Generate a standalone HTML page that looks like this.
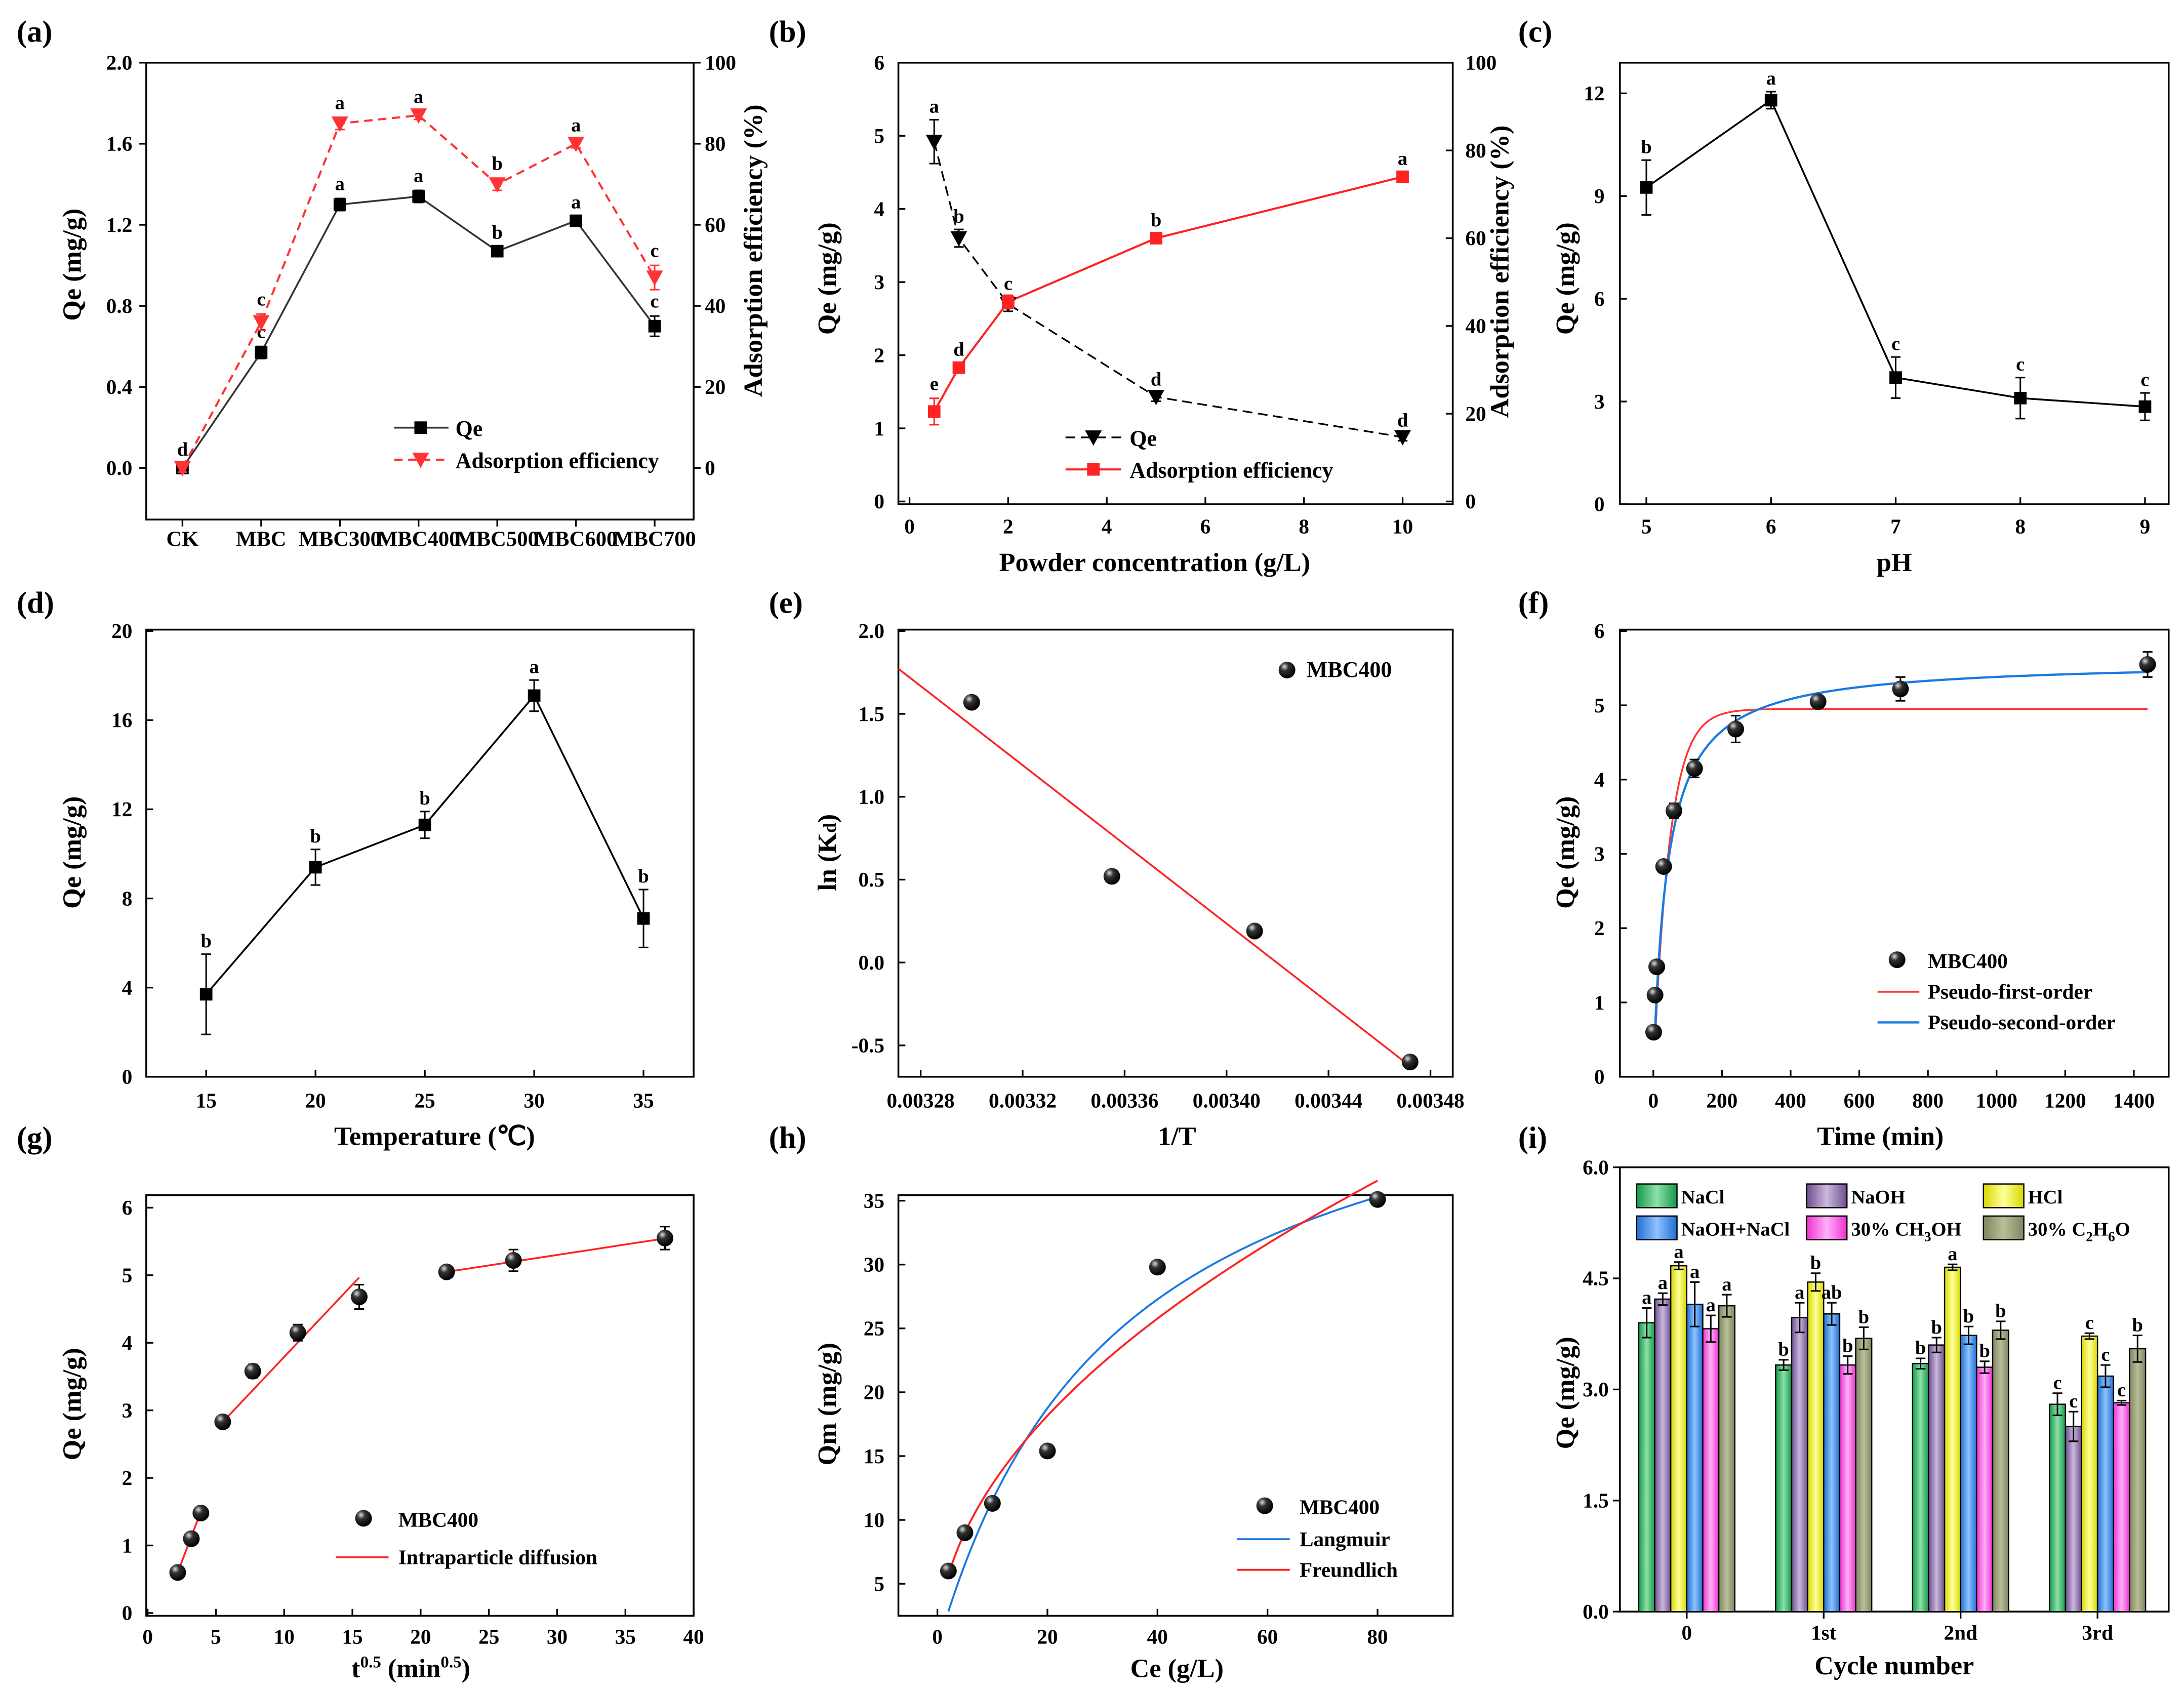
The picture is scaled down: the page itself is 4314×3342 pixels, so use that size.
<!DOCTYPE html>
<html><head><meta charset="utf-8"><style>
html,body{margin:0;padding:0;background:#fff;}
svg{display:block;font-family:"Liberation Serif",serif;font-weight:bold;}
</style></head><body>
<svg id="fig" xmlns="http://www.w3.org/2000/svg" width="4314" height="3342" viewBox="0 0 1568 1214.7">
<defs>
<radialGradient id="ball" cx="0.35" cy="0.3" r="0.7"><stop offset="0" stop-color="#ddd"/><stop offset="0.35" stop-color="#333"/><stop offset="1" stop-color="#000"/></radialGradient>
<linearGradient id="g0" x1="0" x2="1"><stop offset="0" stop-color="#139a4a"/><stop offset="0.5" stop-color="#8de0a8"/><stop offset="1" stop-color="#139a4a"/></linearGradient>
<linearGradient id="g1" x1="0" x2="1"><stop offset="0" stop-color="#6d4f8f"/><stop offset="0.5" stop-color="#cbb8dc"/><stop offset="1" stop-color="#6d4f8f"/></linearGradient>
<linearGradient id="g2" x1="0" x2="1"><stop offset="0" stop-color="#d8d800"/><stop offset="0.5" stop-color="#ffff9a"/><stop offset="1" stop-color="#d8d800"/></linearGradient>
<linearGradient id="g3" x1="0" x2="1"><stop offset="0" stop-color="#1f6fd0"/><stop offset="0.5" stop-color="#8fc2ff"/><stop offset="1" stop-color="#1f6fd0"/></linearGradient>
<linearGradient id="g4" x1="0" x2="1"><stop offset="0" stop-color="#f030d0"/><stop offset="0.5" stop-color="#ffb0f8"/><stop offset="1" stop-color="#f030d0"/></linearGradient>
<linearGradient id="g5" x1="0" x2="1"><stop offset="0" stop-color="#7e8560"/><stop offset="0.5" stop-color="#b8bf98"/><stop offset="1" stop-color="#7e8560"/></linearGradient>
</defs>
</svg>
<script>
// ---------- data ----------
const aCats=["CK","MBC","MBC300","MBC400","MBC500","MBC600","MBC700"];
const aQe=[0,0.57,1.30,1.34,1.07,1.22,0.70];
const aQeErr=[0.02,0.03,0.03,0.03,0.02,0.02,0.05];
const aEff=[0,36,85,87,70,80,47];
const aEffErr=[1,2,1.5,1,1.5,1,3];
const aQeLet=["d","c","a","a","b","a","c"];
const aEffLet=["","c","a","a","b","a","c"];
const bX=[0.5,1,2,5,10];
const bQe=[4.92,3.6,2.7,1.43,0.88];
const bQeErr=[0.3,0.12,0.1,0.06,0.05];
const bEff=[20.5,30.5,45.5,60,74];
const bEffErr=[3,0.8,1.5,0.8,0.8];
const bQeLet=["a","b","c","d","d"];
const bEffLet=["e","d","","b","a"];
const cX=[5,6,7,8,9];
const cQe=[9.25,11.8,3.7,3.1,2.85];
const cErr=[0.8,0.25,0.6,0.6,0.4];
const cLet=["b","a","c","c","c"];
const dX=[15,20,25,30,35];
const dQe=[3.7,9.4,11.3,17.1,7.1];
const dErr=[1.8,0.8,0.6,0.7,1.3];
const dLet=["b","b","b","a","b"];
const eX=[0.003300,0.003355,0.003411,0.003472];
const eY=[1.57,0.52,0.19,-0.60];
const fT=[1,5,10,30,60,120,240,480,720,1440];
const fQ=[0.6,1.1,1.48,2.83,3.58,4.15,4.68,5.05,5.22,5.55];
const fErr=[0.03,0.03,0.03,0.05,0.1,0.12,0.18,0.08,0.16,0.17];
const fPFO=[4.95,0.0214];
const fPSO=[5.6,0.0044];
const gX=[2.2,3.2,3.9,5.5,7.7,11,15.5,21.9,26.8,37.9];
const gY=[0.6,1.1,1.48,2.83,3.58,4.15,4.68,5.05,5.22,5.55];
const gErr=[0.03,0.03,0.03,0.05,0.1,0.12,0.18,0.08,0.16,0.17];
const gSlopes=[0.53,0.214,0.031];
const gIntercepts=[-0.566,1.65,4.37];
const gRanges=[[2.2,3.9],[5.5,15.5],[21.9,37.9]];
const hX=[2,5,10,20,40,80];
const hY=[6,9,11.3,15.4,29.8,35.1];
const hLang=[50,0.03];
const hFreu=[4.0,0.505];
const iCycles=["0","1st","2nd","3rd"];
const iSeries=["NaCl","NaOH","HCl","NaOH+NaCl","30% CH3OH","30% C2H6O"];
const iVals=[[3.9,3.33,3.35,2.8],[4.22,3.97,3.6,2.5],[4.67,4.45,4.65,3.72],[4.15,4.02,3.73,3.18],[3.82,3.33,3.3,2.82],[4.13,3.69,3.8,3.55]];
const iErr=[[0.2,0.07,0.07,0.15],[0.08,0.2,0.1,0.2],[0.05,0.12,0.04,0.04],[0.3,0.15,0.12,0.15],[0.18,0.12,0.08,0.03],[0.15,0.15,0.12,0.18]];
const iLet=[["a","b","b","c"],["a","a","b","c"],["a","b","a","c"],["a","ab","b","c"],["a","b","b","c"],["a","b","b","b"]];

// ---------- helpers ----------
const NS="http://www.w3.org/2000/svg";
const svg=document.getElementById('fig');
function mk(tag,attrs,name,parent){
  const e=document.createElementNS(NS,tag);
  for(const k in attrs) e.setAttribute(k,attrs[k]);
  
  
  (parent||svg).appendChild(e);
  return e;
}
function txt(x,y,s,size,anchor,name,extra){
  const a=Object.assign({x:x,y:y,'font-size':size,'text-anchor':anchor||'middle'},extra||{});
  const t=mk('text',a,name);
  t.innerHTML=s;
  return t;
}
function lin(d0,d1,r0,r1){return v=>r0+(v-d0)*(r1-r0)/(d1-d0);}
function box(x0,y0,x1,y1,name){mk('rect',{x:x0,y:y0,width:x1-x0,height:y1-y0,fill:'none',stroke:'#000','stroke-width':1.3},name);}
function xt(vals,labs,fx,y1,ly,name,dir,size){vals.forEach((v,i)=>{const x=fx(v);mk('line',{x1:x,x2:x,y1:y1,y2:y1+(dir||-5),stroke:'#000','stroke-width':1.2},name+'-tick');txt(x,ly,labs[i],size||15,'middle',name+'-label');});}
function yt(vals,labs,fy,x0,lx,name,anchor,dir){vals.forEach((v,i)=>{const y=fy(v);mk('line',{x1:x0,x2:x0+(dir||5),y1:y,y2:y,stroke:'#000','stroke-width':1.2},name+'-tick');txt(lx,y+5,labs[i],15,anchor||'end',name+'-label');});}
function ytitle(x,y,s,name,rot){txt(0,0,s,19,'middle',name,{transform:`translate(${x},${y}) rotate(${rot||-90})`});}
function err(x,y1,y2,col,name){mk('line',{x1:x,x2:x,y1:y1,y2:y2,stroke:col,'stroke-width':1.1},name);mk('line',{x1:x-3.5,x2:x+3.5,y1:y1,y2:y1,stroke:col,'stroke-width':1.1},name+'-cap');mk('line',{x1:x-3.5,x2:x+3.5,y1:y2,y2:y2,stroke:col,'stroke-width':1.1},name+'-cap');}
function sq(x,y,name){mk('rect',{x:x-4.5,y:y-4.5,width:9,height:9,fill:'#000'},name);}
function tri(x,y,name){mk('path',{d:`M${x-6},${y-5}L${x+6},${y-5}L${x},${y+6}Z`,fill:'#f33'},name);}
function ball(x,y,name){mk('circle',{cx:x,cy:y,r:6,fill:'url(#ball)'},name);}
function pl(pts,attrs,name){return mk('polyline',Object.assign({points:pts.map(p=>p.join(',')).join(' '),fill:'none'},attrs),name);}
function reg(xs,ys){const n=xs.length,mx=xs.reduce((a,b)=>a+b)/n,my=ys.reduce((a,b)=>a+b)/n;let sxy=0,sxx=0;for(let i=0;i<n;i++){sxy+=(xs[i]-mx)*(ys[i]-my);sxx+=(xs[i]-mx)**2;}const m=sxy/sxx;return [m,my-m*mx];}
function plabel(x,y,s){txt(x,y,s,22,'start','panel-label-'+s.replace(/[()]/g,''));}

// ---------- (a) ----------
plabel(12,30,'(a)');
{const fx=i=>131+i*56.5, fy=lin(0,2,336,45), fr=lin(0,100,336,45);
box(105,45,498,373,'a-plot-area');
xt(aCats.map((c,i)=>i),aCats,fx,373,392,'a-x',5,15.5);
yt([0,0.4,0.8,1.2,1.6,2.0],["0.0","0.4","0.8","1.2","1.6","2.0"],fy,105,95,'a-y-left','end',-5);
yt([0,20,40,60,80,100],["0","20","40","60","80","100"],fr,498,506,'a-y-right','start',5);
ytitle(58,190,'Qe (mg/g)','a-y-title');
ytitle(547,180,'Adsorption efficiency (%)','a-y2-title',-90);
pl(aEff.map((v,i)=>[fx(i),fr(v)]),{stroke:'#f33','stroke-width':1.5,'stroke-dasharray':'6,4'},'a-eff-line');
pl(aQe.map((v,i)=>[fx(i),fy(v)]),{stroke:'#333','stroke-width':1.3},'a-qe-line');
aQe.forEach((v,i)=>{err(fx(i),fy(v+aQeErr[i]),fy(v-aQeErr[i]),'#000','a-qe-err');sq(fx(i),fy(v),'a-qe-point');txt(fx(i),fy(v+aQeErr[i])-6,aQeLet[i],14,'middle','a-qe-letter');});
aEff.forEach((v,i)=>{err(fx(i),fr(v+aEffErr[i]),fr(v-aEffErr[i]),'#f33','a-eff-err');tri(fx(i),fr(v),'a-eff-point');if(aEffLet[i])txt(fx(i),fr(v+aEffErr[i])-6,aEffLet[i],14,'middle','a-eff-letter');});
mk('line',{x1:283,x2:322,y1:307,y2:307,stroke:'#333','stroke-width':1.3},'a-legend-qe-line');sq(302,307,'a-legend-qe-marker');txt(327,313,'Qe',16,'start','a-legend-qe');
mk('line',{x1:283,x2:322,y1:330,y2:330,stroke:'#f33','stroke-width':1.5,'stroke-dasharray':'6,4'},'a-legend-eff-line');tri(302,330,'a-legend-eff-marker');txt(327,336,'Adsorption efficiency',16,'start','a-legend-eff');}

// ---------- (b) ----------
plabel(552,30,'(b)');
{const fx=lin(0,10,653,1007), fy=lin(0,6,360,45), fr=lin(0,100,360,45);
box(645,45,1043,362,'b-plot-area');
xt([0,2,4,6,8,10],["0","2","4","6","8","10"],fx,362,383,'b-x');
yt([0,1,2,3,4,5,6],["0","1","2","3","4","5","6"],fy,645,635,'b-y-left');
yt([0,20,40,60,80,100],["0","20","40","60","80","100"],fr,1043,1052,'b-y-right','start',-5);
ytitle(600,200,'Qe (mg/g)','b-y-title');
ytitle(1083,195,'Adsorption efficiency (%)','b-y2-title',-90);
txt(829,410,'Powder concentration (g/L)',19,'middle','b-x-title');
pl(bQe.map((v,i)=>[fx(bX[i]),fy(v)]),{stroke:'#000','stroke-width':1.2,'stroke-dasharray':'7,4'},'b-qe-line');
pl(bEff.map((v,i)=>[fx(bX[i]),fr(v)]),{stroke:'#f22','stroke-width':1.5},'b-eff-line');
bQe.forEach((v,i)=>{const x=fx(bX[i]);err(x,fy(v+bQeErr[i]),fy(v-bQeErr[i]),'#000','b-qe-err');mk('path',{d:`M${x-6},${fy(v)-5}L${x+6},${fy(v)-5}L${x},${fy(v)+6}Z`,fill:'#000'},'b-qe-point');txt(x,fy(v+bQeErr[i])-5,bQeLet[i],14,'middle','b-qe-letter');});
bEff.forEach((v,i)=>{const x=fx(bX[i]);err(x,fr(v+bEffErr[i]),fr(v-bEffErr[i]),'#f22','b-eff-err');mk('rect',{x:x-4.5,y:fr(v)-4.5,width:9,height:9,fill:'#f22'},'b-eff-point');if(bEffLet[i])txt(x,fr(v+bEffErr[i])-6,bEffLet[i],14,'middle','b-eff-letter');});
mk('line',{x1:765,x2:805,y1:314,y2:314,stroke:'#000','stroke-width':1.2,'stroke-dasharray':'7,4'},'b-legend-qe-line');mk('path',{d:'M779,309L791,309L785,320Z',fill:'#000'},'b-legend-qe-marker');txt(811,320,'Qe',16,'start','b-legend-qe');
mk('line',{x1:765,x2:805,y1:337,y2:337,stroke:'#f22','stroke-width':1.5},'b-legend-eff-line');mk('rect',{x:780.5,y:332.5,width:9,height:9,fill:'#f22'},'b-legend-eff-marker');txt(811,343,'Adsorption efficiency',16,'start','b-legend-eff');}

// ---------- (c) ----------
plabel(1090,30,'(c)');
{const fx=lin(5,9,1182,1540), fy=lin(0,12,362,67);
box(1163,45,1557,362,'c-plot-area');
xt(cX,cX.map(String),fx,362,383,'c-x');
yt([0,3,6,9,12],["0","3","6","9","12"],fy,1163,1152,'c-y');
ytitle(1130,200,'Qe (mg/g)','c-y-title');
txt(1360,410,'pH',19,'middle','c-x-title');
pl(cQe.map((v,i)=>[fx(cX[i]),fy(v)]),{stroke:'#000','stroke-width':1.3},'c-line');
cQe.forEach((v,i)=>{err(fx(cX[i]),fy(v+cErr[i]),fy(v-cErr[i]),'#000','c-err');sq(fx(cX[i]),fy(v),'c-point');txt(fx(cX[i]),fy(v+cErr[i])-5,cLet[i],14,'middle','c-letter');});}

// ---------- (d) ----------
plabel(12,440,'(d)');
{const fx=lin(15,35,148,462), fy=lin(0,20,773,453);
box(105,452,498,773,'d-plot-area');
xt(dX,dX.map(String),fx,773,795,'d-x');
yt([0,4,8,12,16,20],["0","4","8","12","16","20"],fy,105,95,'d-y');
ytitle(58,612,'Qe (mg/g)','d-y-title');
txt(312,822,'Temperature (℃)',19,'middle','d-x-title');
pl(dQe.map((v,i)=>[fx(dX[i]),fy(v)]),{stroke:'#000','stroke-width':1.3},'d-line');
dQe.forEach((v,i)=>{err(fx(dX[i]),fy(v+dErr[i]),fy(v-dErr[i]),'#000','d-err');sq(fx(dX[i]),fy(v),'d-point');txt(fx(dX[i]),fy(v+dErr[i])-5,dLet[i],14,'middle','d-letter');});}

// ---------- (e) ----------
plabel(552,440,'(e)');
{const fx=lin(0.00328,0.00348,661,1027), fy=lin(0,2,691,453);
box(645,452,1043,773,'e-plot-area');
const xv=[0.00328,0.00332,0.00336,0.00340,0.00344,0.00348];
xt(xv,xv.map(v=>v.toFixed(5)),fx,773,795,'e-x');
yt([-0.5,0,0.5,1,1.5,2],["-0.5","0.0","0.5","1.0","1.5","2.0"],fy,645,635,'e-y');
ytitle(600,612,'ln (K<tspan font-size="13">d</tspan>)','e-y-title');
txt(845,822,'1/T',19,'middle','e-x-title');
const [m,b]=reg(eX,eY);const xa=0.0032713,xb=0.003472;
mk('line',{x1:fx(xa),y1:fy(m*xa+b),x2:fx(xb),y2:fy(m*xb+b),stroke:'#f22','stroke-width':1.3},'e-fit-line');
eX.forEach((v,i)=>ball(fx(v),fy(eY[i]),'e-point'));
ball(924,481,'e-legend-marker');txt(938,486,'MBC400',16,'start','e-legend');}

// ---------- (f) ----------
plabel(1090,440,'(f)');
{const fx=lin(0,1400,1187,1532), fy=lin(0,6,773,453);
box(1163,452,1557,773,'f-plot-area');
const xv=[0,200,400,600,800,1000,1200,1400];
xt(xv,xv.map(String),fx,773,795,'f-x');
yt([0,1,2,3,4,5,6],["0","1","2","3","4","5","6"],fy,1163,1152,'f-y');
ytitle(1130,612,'Qe (mg/g)','f-y-title');
txt(1350,822,'Time (min)',19,'middle','f-x-title');
const ts=[];for(let t=1;t<=1440;t+=(t<100?1:5))ts.push(t);ts.push(1440);
pl(ts.map(t=>[fx(t),fy(Math.max(0.6,fPFO[0]*(1-Math.exp(-fPFO[1]*t))))]),{stroke:'#f33','stroke-width':1.3},'f-pfo-curve');
pl(ts.map(t=>{const k=fPSO[0]*fPSO[1]*t;return [fx(t),fy(Math.max(0.6,fPSO[0]*k/(1+k)))];}),{stroke:'#1a7ae0','stroke-width':1.6},'f-pso-curve');
fT.forEach((t,i)=>{err(fx(t),fy(fQ[i]+fErr[i]),fy(fQ[i]-fErr[i]),'#000','f-err');ball(fx(t),fy(fQ[i]),'f-point');});
ball(1362,689,'f-legend-marker');txt(1384,695,'MBC400',15,'start','f-legend-mbc');
mk('line',{x1:1348,x2:1378,y1:712,y2:712,stroke:'#f33','stroke-width':1.3},'f-legend-pfo-line');txt(1384,717,'Pseudo-first-order',15,'start','f-legend-pfo');
mk('line',{x1:1348,x2:1378,y1:734,y2:734,stroke:'#1a7ae0','stroke-width':1.6},'f-legend-pso-line');txt(1384,739,'Pseudo-second-order',15,'start','f-legend-pso');}

// ---------- (g) ----------
plabel(12,824,'(g)');
{const fx=lin(0,40,106,498), fy=lin(0,6,1158,867);
box(105,858,498,1160,'g-plot-area');
const xv=[0,5,10,15,20,25,30,35,40];
xt(xv,xv.map(String),fx,1160,1180,'g-x');
yt([0,1,2,3,4,5,6],["0","1","2","3","4","5","6"],fy,105,95,'g-y');
ytitle(58,1008,'Qe (mg/g)','g-y-title');
txt(295,1204,'t<tspan font-size="12" dy="-7">0.5</tspan><tspan dy="7"> (min</tspan><tspan font-size="12" dy="-7">0.5</tspan><tspan dy="7">)</tspan>',19,'middle','g-x-title');
gSlopes.forEach((m,k)=>{const b=gIntercepts[k],xa=gRanges[k][0],xb=gRanges[k][1];
mk('line',{x1:fx(xa),y1:fy(m*xa+b),x2:fx(xb),y2:fy(m*xb+b),stroke:'#f22','stroke-width':1.3},'g-fit-segment');});
gX.forEach((v,i)=>{err(fx(v),fy(gY[i]+gErr[i]),fy(gY[i]-gErr[i]),'#000','g-err');ball(fx(v),fy(gY[i]),'g-point');});
ball(261,1090,'g-legend-marker');txt(286,1096,'MBC400',15,'start','g-legend-mbc');
mk('line',{x1:241,x2:279,y1:1118,y2:1118,stroke:'#f22','stroke-width':1.3},'g-legend-line');txt(286,1123,'Intraparticle diffusion',15,'start','g-legend-ipd');}

// ---------- (h) ----------
plabel(552,824,'(h)');
{const fx=lin(0,80,673,989), fy=lin(5,35,1137,862);
box(645,858,1043,1160,'h-plot-area');
const xv=[0,20,40,60,80];
xt(xv,xv.map(String),fx,1160,1180,'h-x');
yt([5,10,15,20,25,30,35],["5","10","15","20","25","30","35"],fy,645,635,'h-y');
ytitle(600,1008,'Qm (mg/g)','h-y-title');
txt(845,1204,'Ce (g/L)',19,'middle','h-x-title');
const cs=[];for(let c=2;c<=80;c+=0.5)cs.push(c);
pl(cs.map(c=>[fx(c),fy(hLang[0]*hLang[1]*c/(1+hLang[1]*c))]),{stroke:'#1a7ae0','stroke-width':1.4},'h-langmuir-curve');
pl(cs.filter(c=>c>=2.5).map(c=>[fx(c),fy(hFreu[0]*Math.pow(c,hFreu[1]))]),{stroke:'#f22','stroke-width':1.4},'h-freundlich-curve');
hX.forEach((v,i)=>ball(fx(v),fy(hY[i]),'h-point'));
ball(908,1081,'h-legend-marker');txt(933,1087,'MBC400',15,'start','h-legend-mbc');
mk('line',{x1:888,x2:926,y1:1105,y2:1105,stroke:'#1a7ae0','stroke-width':1.4},'h-legend-lang-line');txt(933,1110,'Langmuir',15,'start','h-legend-lang');
mk('line',{x1:888,x2:926,y1:1127,y2:1127,stroke:'#f22','stroke-width':1.4},'h-legend-freu-line');txt(933,1132,'Freundlich',15,'start','h-legend-freu');}

// ---------- (i) ----------
plabel(1090,824,'(i)');
{const fy=lin(0,6,1157,838), gx=i=>1211+i*98.3, bw=11.5;
box(1163,838,1557,1157,'i-plot-area');
xt(iCycles.map((c,i)=>i),iCycles,gx,1157,1177,'i-x',5);
yt([0,1.5,3,4.5,6],["0.0","1.5","3.0","4.5","6.0"],fy,1163,1155,'i-y','end',-5);
ytitle(1130,1000,'Qe (mg/g)','i-y-title');
txt(1360,1202,'Cycle number',19,'middle','i-x-title');
iSeries.forEach((s,k)=>{iVals[k].forEach((v,i)=>{const x=gx(i)+(k-3)*bw;
mk('rect',{x:x,y:fy(v),width:bw,height:fy(0)-fy(v),fill:`url(#g${k})`,stroke:'#000','stroke-width':0.9},'i-bar');
err(x+bw/2,fy(v+iErr[k][i]),fy(v-iErr[k][i]),'#000','i-err');
txt(x+bw/2,fy(v+iErr[k][i])-3,iLet[k][i],14,'middle','i-letter');});});
const labs=['NaCl','NaOH','HCl','NaOH+NaCl','30% CH<tspan font-size="10" dy="4">3</tspan><tspan dy="-4">OH</tspan>','30% C<tspan font-size="10" dy="4">2</tspan><tspan dy="-4">H</tspan><tspan font-size="10" dy="4">6</tspan><tspan dy="-4">O</tspan>'];
labs.forEach((l,k)=>{const cx=[1175,1297,1424][k%3],cy=k<3?850:873;
mk('rect',{x:cx,y:cy,width:29,height:17,fill:`url(#g${k})`,stroke:'#000','stroke-width':0.9},'i-legend-swatch');
txt(cx+32,cy+14,l,14,'start','i-legend-label');});}
</script>
</body></html>
